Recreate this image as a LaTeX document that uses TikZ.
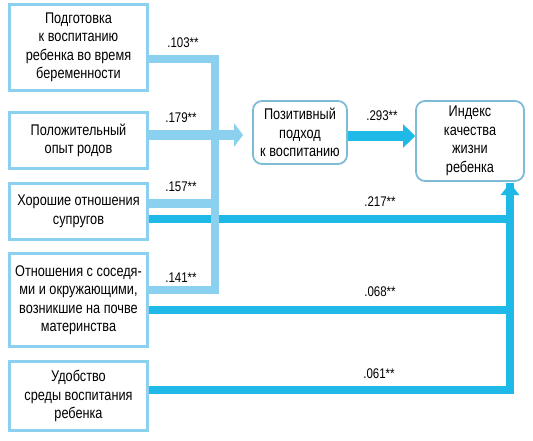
\documentclass[tikz,border=0pt]{standalone}
\usepackage{fontspec}
\setmainfont{Liberation Sans}[FakeStretch=0.82]
\usetikzlibrary{arrows.meta}
\usetikzlibrary{calc}

\definecolor{paleblue}{HTML}{8BD0EE}
\definecolor{deepblue}{HTML}{1FB9E8}

\begin{document}
\begin{tikzpicture}[x=1pt,y=-1pt]
  \useasboundingbox (0,0) rectangle (533,441);

  \path
    coordinate (prep)     at ( 78.5,  47.5)
    coordinate (birth)    at ( 78.5, 140.5)
    coordinate (spouse)   at ( 78.5, 211.5)
    coordinate (neigh)    at ( 78.5, 300)
    coordinate (env)      at ( 78.5, 396)
    coordinate (approach) at (300,   132.5)
    coordinate (index)    at (470,   141)
    coordinate (bustop)   at (215,    59)
    coordinate (busmid)   at (215,   203)
    coordinate (busbot)   at (215,   290)
    coordinate (birthout) at (215,   135)
    coordinate (midflow)  at (380,   136)
    coordinate (trunktop) at (510,   183)
    coordinate (spouseout) at (300,  219)
    coordinate (neighout)  at (300,  310)
    coordinate (envout)    at (300,  390)
    ;

  % Factor boxes
  \tikzset{factorstyle/.style = {draw=paleblue, line width=3pt, shape=rectangle, minimum width=138pt,
      inner sep=0pt, align=center, font=\fontsize{15.5}{18.5}\selectfont}}

  \node [factorstyle, minimum height=86pt] (Prep) at (prep)
    {Подготовка\\к воспитанию\\ребенка во время\\беременности};
  \node [factorstyle, minimum height=56pt] (Birth) at (birth) {Положительный\\опыт родов};
  \node [factorstyle, minimum height=56pt] (Spouse) at (spouse) {Хорошие отношения\\супругов};
  \node [factorstyle, minimum height=93pt] (Neigh) at (neigh)
    {Отношения с соседя-\\ми и окружающими,\\возникшие на почве\\материнства};
  \node [factorstyle, minimum height=69pt] (Env) at (env) {Удобство\\среды воспитания\\ребенка};

  % Outcome boxes
  \tikzset{outcomestyle/.style = {draw=paleblue!90!black, line width=1.8pt, rounded corners=9pt,
      shape=rectangle, inner sep=0pt, align=center, font=\fontsize{15.5}{18.5}\selectfont}}

  \node [outcomestyle, minimum width=94pt, minimum height=63pt] (Approach) at (approach)
    {Позитивный\\подход\\к воспитанию};
  \node [outcomestyle, minimum width=108pt, minimum height=80pt] (Index) at (index)
    {Индекс\\качества\\жизни\\ребенка};

  % Direct paths
  \tikzset{deepline/.style = {draw=deepblue, line width=8pt, line join=miter}}
  \tikzset{deeparrow/.style = {deepline, -{Triangle[length=12pt,width=23pt]}}}

  \path [deeparrow, line width=10pt] (Approach.east |- midflow) -- (Index.west |- midflow);
  \path [deepline] (Spouse.east |- spouseout) -| (trunktop);
  \path [deepline] (Neigh.east |- neighout) -| (trunktop);
  \path [deeparrow, -{Triangle[length=12pt,width=18pt]}] (Env.east |- envout) -| (trunktop);

  % Paths through the approach
  \tikzset{paleline/.style = {draw=paleblue, line width=8pt, line join=miter}}
  \tikzset{palearrow/.style = {paleline, line width=10pt, -{Triangle[length=9pt,width=23pt]}}}

  \path [paleline] (Prep.east |- bustop) -- (bustop) -- (busbot) -- (Neigh.east |- busbot);
  \path [paleline, line width=9pt] (Spouse.east |- busmid) -- (busmid);
  \path [palearrow, shorten >=9pt] (Birth.east |- birthout) -- (Approach.west |- birthout);

  % Coefficients
  \tikzset{coefstyle/.style = {font=\fontsize{14}{16}\selectfont, inner sep=0pt}}

  \node [coefstyle] (c103) at (183,  43) {.103**};
  \node [coefstyle] (c179) at (181, 118) {.179**};
  \node [coefstyle] (c157) at (181, 187) {.157**};
  \node [coefstyle] (c141) at (181, 278) {.141**};
  \node [coefstyle] (c293) at (382, 116) {.293**};
  \node [coefstyle] (c217) at (380, 202) {.217**};
  \node [coefstyle] (c068) at (380, 292) {.068**};
  \node [coefstyle] (c061) at (379, 374) {.061**};

\end{tikzpicture}
\end{document}
